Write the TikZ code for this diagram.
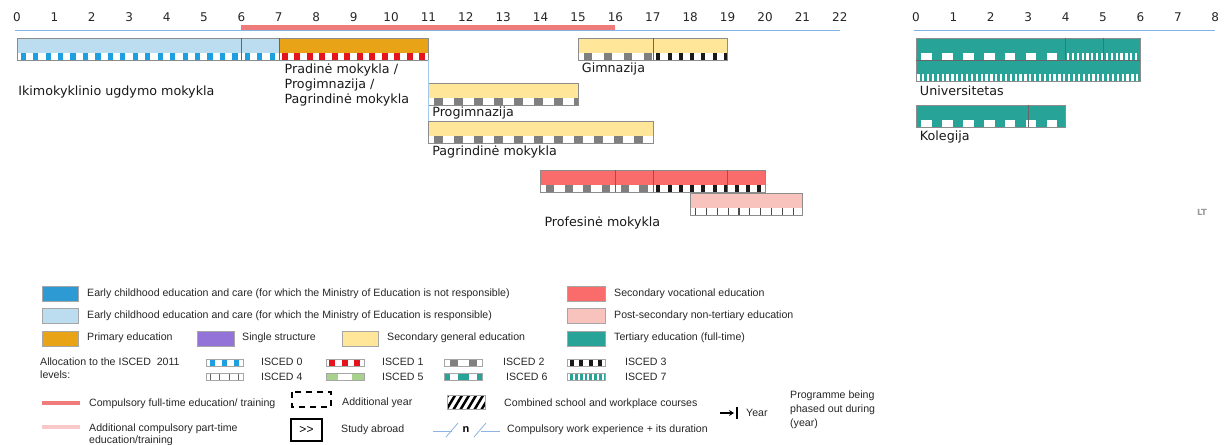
\documentclass[tikz,border=0pt]{standalone}
\usepackage{fontspec}
\setmainfont{Liberation Sans}
\newfontfamily\barfont{DejaVu Sans}
\usepackage{tikz}
\usetikzlibrary{positioning, arrows.meta}

\definecolor{ecec}{HTML}{BCDDEF}
\definecolor{ececdark}{HTML}{2D9AD3}
\definecolor{iscedzero}{HTML}{1E9FE0}
\definecolor{primary}{HTML}{E8A317}
\definecolor{iscedone}{HTML}{E5141B}
\definecolor{single}{HTML}{9473D8}
\definecolor{secgen}{HTML}{FFE699}
\definecolor{secvoc}{HTML}{FA6B6B}
\definecolor{postsec}{HTML}{F8C2BD}
\definecolor{tertiary}{HTML}{27A497}
\definecolor{iscedtwo}{HTML}{7F7F7F}
\definecolor{iscedthree}{HTML}{1A1A1A}
\definecolor{iscedfive}{HTML}{A9D18E}
\definecolor{comp}{HTML}{F07B7B}
\definecolor{partcomp}{HTML}{F9C9C9}
\definecolor{axisblue}{HTML}{7FB2E5}
\definecolor{workline}{HTML}{8DB4E2}

% strip of ISCED marks: from, to, top, base, mark, period, mark width
\newcommand{\levelstrip}[7]{%
  \begin{scope}
    \clip (#1,#3) rectangle (#2,#3+7);
    \fill[#4] (#1,#3) rectangle (#2,#3+7);
    \foreach \k in {0,...,60}
      \fill[#5] ({#1+(\k+0.5)*#6-#7/2},#3) rectangle ++(#7,7);
  \end{scope}}

\begin{document}
\begin{tikzpicture}[x=1pt, y=-1pt,
  tick/.style={font=\barfont\fontsize{12}{14}\selectfont, text=black!85, inner sep=0pt},
  barlabel/.style={font=\barfont\fontsize{12.7}{15}\selectfont, anchor=west,
                   inner sep=0pt, align=left, text=black!90},
  legtext/.style={font=\fontsize{10.6}{12.5}\selectfont, anchor=west,
                  inner sep=0pt, align=left, text=black!85},
  barline/.style={draw=black!45, line width=0.6pt},
  bardiv/.style={draw=black!60, line width=0.6pt},
  swatch/.style={draw=black!35, line width=0.6pt},
]
\useasboundingbox (0,0) rectangle (1225,444);

% Main chart (years of age)
\begin{scope}[x=37.4pt, xshift=17pt]
  \foreach \n in {0,...,22}
    \node[tick] (a\n) at (\n,17) {\n};
  \draw[axisblue, line width=1.5pt] (-0.05,30.5) -- (22,30.5);
  \draw[comp, line width=5pt] (6,27.5) -- (16,27.5);

  % Early childhood + primary
  \fill[ecec] (0,38) rectangle (7,53);
  \levelstrip{0}{7}{53}{white}{iscedzero}{0.333}{0.14}
  \fill[primary] (7,38) rectangle (11,53);
  \levelstrip{7}{11}{53}{white}{iscedone}{0.333}{0.16}
  \draw[barline] (0,38) rectangle (11,60);
  \draw[bardiv] (6,38) -- (6,60);
  \draw[bardiv] (7,38) -- (7,60);

  % Gimnazija
  \fill[secgen] (15,38) rectangle (19,53);
  \levelstrip{15}{17}{53}{white}{iscedtwo}{0.535}{0.22}
  \levelstrip{17}{19}{53}{white}{iscedthree}{0.3}{0.107}
  \draw[barline] (15,38) rectangle (19,60);
  \draw[bardiv] (17,38) -- (17,60);

  % Progimnazija
  \fill[secgen] (11,83) rectangle (15,98);
  \levelstrip{11}{15}{98}{white}{iscedtwo}{0.535}{0.22}
  \draw[barline] (11,83) rectangle (15,105);

  % Pagrindine mokykla
  \fill[secgen] (11,121) rectangle (17,136);
  \levelstrip{11}{17}{136}{white}{iscedtwo}{0.535}{0.22}
  \draw[barline] (11,121) rectangle (17,143);

  \coordinate (split top) at (11,60);
  \coordinate (split bot) at (11,121);
  \draw[axisblue!70, line width=0.6pt] (split top) -- (split bot);

  % Profesine mokykla
  \fill[secvoc] (14,170) rectangle (20,185);
  \levelstrip{14}{17}{185}{white}{iscedtwo}{0.5}{0.22}
  \levelstrip{17}{20}{185}{white}{iscedthree}{0.3}{0.107}
  \draw[barline] (14,170) rectangle (20,192);
  \foreach \d in {16,17,19}
    \draw[bardiv] (\d,170) -- (\d,192);
  \fill[postsec] (18,193) rectangle (21,208);
  \levelstrip{18}{21}{208}{white}{black!70}{0.29}{0.03}
  \draw[barline] (18,193) rectangle (21,215);

  % Labels
  \node[barlabel] (ikim) at (0.03,92) {Ikimokyklinio ugdymo mokykla};
  \node[barlabel] (prad) at (7.15,85) {Pradinė mokykla /\\Progimnazija /\\Pagrindinė mokykla};
  \node[barlabel] (gimn) at (15.1,69) {Gimnazija};
  \node[barlabel] (prog) at (11.1,113) {Progimnazija};
  \node[barlabel] (pagr) at (11.1,152) {Pagrindinė mokykla};
  \node[barlabel] (prof) at (14.1,223) {Profesinė mokykla};
\end{scope}

% Tertiary chart (years of study)
\begin{scope}[x=37.4pt, xshift=916pt]
  \foreach \n in {0,...,8}
    \node[tick] (b\n) at (\n,17) {\n};
  \draw[axisblue, line width=1.5pt] (-0.05,30.5) -- (8,30.5);

  % Universitetas
  \fill[tertiary] (0,38) rectangle (6,53);
  \levelstrip{0}{4}{53}{tertiary}{white}{0.56}{0.28}
  \levelstrip{4}{6}{53}{tertiary}{white}{0.13}{0.06}
  \fill[tertiary] (0,60) rectangle (6,74);
  \levelstrip{0}{6}{74}{tertiary}{white}{0.13}{0.06}
  \draw[barline] (0,38) rectangle (6,81);
  \draw[bardiv] (0,60) -- (6,60);
  \foreach \d in {4,5}
    \draw[bardiv] (\d,38) -- (\d,60);

  % Kolegija
  \fill[tertiary] (0,105) rectangle (4,120);
  \levelstrip{0}{4}{120}{tertiary}{white}{0.56}{0.28}
  \draw[barline] (0,105) rectangle (4,127);
  \draw[bardiv] (3,105) -- (3,127);

  \node[barlabel] (univ) at (0.1,91) {Universitetas};
  \node[barlabel] (kole) at (0.1,137) {Kolegija};
\end{scope}

\node[font=\barfont\bfseries\fontsize{8.5}{10}\selectfont, text=black!40] (ctry) at (1202,212) {LT};

% Legend: colours
\draw[swatch, fill=ececdark] (42,286) rectangle (78,301);
\node[legtext] (lecn) at (87,294) {Early childhood education and care (for which the Ministry of Education is not responsible)};
\draw[swatch, fill=ecec] (42,308) rectangle (78,323);
\node[legtext] (lecr) at (87,316) {Early childhood education and care (for which the Ministry of Education is responsible)};
\draw[swatch, fill=primary] (42,331) rectangle (78,346);
\node[legtext] (lpri) at (87,338) {Primary education};
\draw[swatch, fill=single] (197,331) rectangle (234,346);
\node[legtext] (lsin) at (242,338) {Single structure};
\draw[swatch, fill=secgen] (342,331) rectangle (378,346);
\node[legtext] (lsec) at (387,338) {Secondary general education};
\draw[swatch, fill=secvoc] (567,286) rectangle (605,301);
\node[legtext] (lvoc) at (614,294) {Secondary vocational education};
\draw[swatch, fill=postsec] (567,308) rectangle (605,323);
\node[legtext] (lpost) at (614,316) {Post-secondary non-tertiary education};
\draw[swatch, fill=tertiary] (567,331) rectangle (605,346);
\node[legtext] (lter) at (614,338) {Tertiary education (full-time)};

% Legend: ISCED levels
\node[legtext, font=\fontsize{10.6}{13}\selectfont] (lalloc) at (40,368) {Allocation to the ISCED\ \ 2011\\levels:};
\levelstrip{206}{243}{359}{white}{iscedzero}{12}{5}
\draw[swatch] (206,359) rectangle (243,366);
\node[legtext] (li0) at (261,362) {ISCED 0};
\levelstrip{326}{364}{359}{white}{iscedone}{12.5}{6}
\draw[swatch] (326,359) rectangle (364,366);
\node[legtext] (li1) at (382,362) {ISCED 1};
\levelstrip{444}{482}{359}{white}{iscedtwo}{19}{8}
\draw[swatch] (444,359) rectangle (482,366);
\node[legtext] (li2) at (503,362) {ISCED 2};
\levelstrip{567}{605}{359}{white}{iscedthree}{9.5}{4}
\draw[swatch] (567,359) rectangle (605,366);
\node[legtext] (li3) at (625,362) {ISCED 3};
\levelstrip{206}{243}{373}{white}{black!60}{9.25}{1}
\draw[swatch] (206,373) rectangle (243,380);
\node[legtext] (li4) at (261,377) {ISCED 4};
\levelstrip{326}{364}{373}{iscedfive}{white}{38}{14}
\draw[swatch] (326,373) rectangle (364,380);
\node[legtext] (li5) at (382,377) {ISCED 5};
\levelstrip{444}{482}{373}{tertiary}{white}{19}{8}
\draw[swatch] (444,373) rectangle (482,380);
\node[legtext] (li6) at (506,377) {ISCED 6};
\levelstrip{567}{605}{373}{tertiary}{white}{4.75}{2}
\draw[swatch] (567,373) rectangle (605,380);
\node[legtext] (li7) at (625,377) {ISCED 7};

% Legend: other signs
\draw[comp, line width=3.5pt] (42,403) -- (80,403);
\node[legtext] (lcomp) at (89,404) {Compulsory full-time education/ training};
\draw[partcomp, line width=3.5pt] (42,427) -- (80,427);
\node[legtext] (lpart) at (89,435) {Additional compulsory part-time\\education/training};
\draw[black, line width=1.6pt, dash pattern=on 6pt off 5pt] (292,392) rectangle (331,407);
\node[legtext] (ladd) at (342,403) {Additional year};
\node[draw, line width=1.2pt, minimum width=31pt, minimum height=22pt, inner sep=0pt,
      font=\fontsize{12}{14}\selectfont] (labr) at (306.5,430) {>{}>};
\node[legtext] (labrt) at (341,430) {Study abroad};
\begin{scope}
  \clip (447,395) rectangle (485,409);
  \foreach \k in {0,...,7}
    \draw[black, line width=2.5pt] (438+\k*7,412) -- (450+\k*7,392);
\end{scope}
\draw[swatch] (447,395) rectangle (485,409);
\node[legtext] (lcomb) at (504,404) {Combined school and workplace courses};
\draw[workline, line width=0.8pt] (433,431) -- (452,431);
\draw[workline, line width=0.8pt] (446,437) -- (458,423);
\node[font=\bfseries\fontsize{11}{13}\selectfont, inner sep=0pt] (lnum) at (466,430) {n};
\draw[workline, line width=0.8pt] (474,437) -- (486,423);
\draw[workline, line width=0.8pt] (481,431) -- (500,431);
\node[legtext] (lwork) at (507,430) {Compulsory work experience + its duration};
\coordinate (yr start) at (720,413);
\coordinate (yr end) at (734,413);
\draw[-{Stealth[length=5pt,width=6pt]}, line width=1.4pt] (yr start) -- (yr end);
\draw[line width=1.4pt] (737,407) -- (737,419);
\node[legtext] (lyear) at (746,413) {Year};
\node[legtext, font=\fontsize{10.6}{14}\selectfont] (lphase) at (790,410) {Programme being\\phased out during\\(year)};
\end{tikzpicture}
\end{document}
